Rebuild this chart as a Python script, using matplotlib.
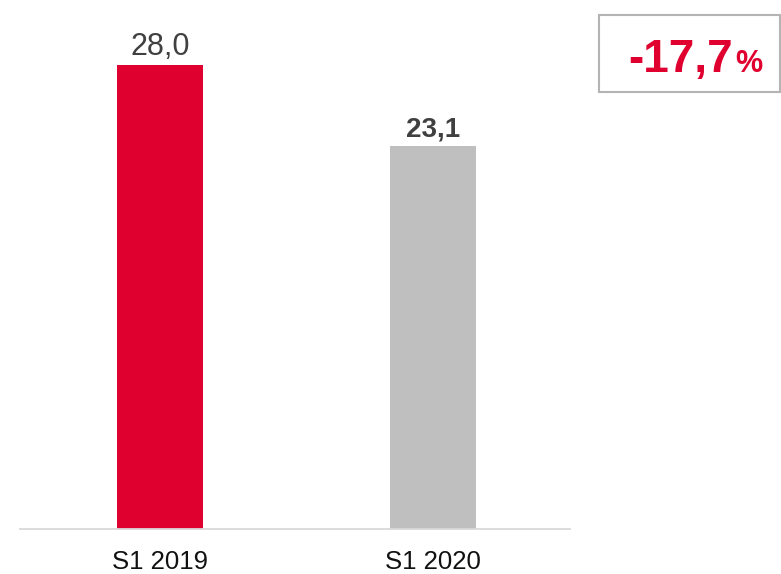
import matplotlib.pyplot as plt
from matplotlib.patches import Rectangle

# Data
periods = ["S1 2019", "S1 2020"]
values = [28.0, 23.1]
value_labels = ["28,0", "23,1"]
change_label = "-17,7"

plt.rcParams["font.family"] = ["Liberation Sans", "DejaVu Sans"]

fig = plt.figure(figsize=(7.81, 5.74), dpi=100)
ax = fig.add_axes([20 / 781, 45 / 574, 550 / 781, 529 / 574])

colors = ["#E0002F", "#BFBFBF"]
x = range(len(periods))
bars = ax.bar(x, values, width=0.315, color=colors)

ax.set_xlim(-0.513, 1.502)
ax.set_ylim(0, 31.9)

# value labels
weights = ["normal", "bold"]
sizes = [22, 20]
for i, (b, lab) in enumerate(zip(bars, value_labels)):
    ax.annotate(lab, (b.get_x() + b.get_width() / 2, b.get_height()),
                xytext=(0, 6.8), textcoords="offset points",
                ha="center", va="baseline", fontsize=sizes[i],
                fontweight=weights[i], color="#404040")

ax.set_xticks(list(x))
ax.set_xticklabels(periods, fontsize=18.5, color="#111111")
ax.tick_params(axis="x", length=0, pad=15)
ax.set_yticks([])

for s in ["top", "right", "left"]:
    ax.spines[s].set_visible(False)
ax.spines["bottom"].set_color("#D9D9D9")
ax.spines["bottom"].set_linewidth(1.3)

# change box
box = Rectangle((599 / 781, (574 - 92) / 574), 181 / 781, 77 / 574,
                transform=fig.transFigure, fill=False,
                edgecolor="#B4B4B4", linewidth=1.5)
fig.patches.append(box)
fig.text(733 / 781, (574 - 72) / 574, change_label, ha="right", va="baseline",
         fontsize=33, fontweight="bold", color="#E0002F")
fig.text(735 / 781, (574 - 72) / 574, "%", ha="left", va="baseline",
         fontsize=22, fontweight="bold", color="#E0002F")

fig.savefig("out.png", dpi=100)
